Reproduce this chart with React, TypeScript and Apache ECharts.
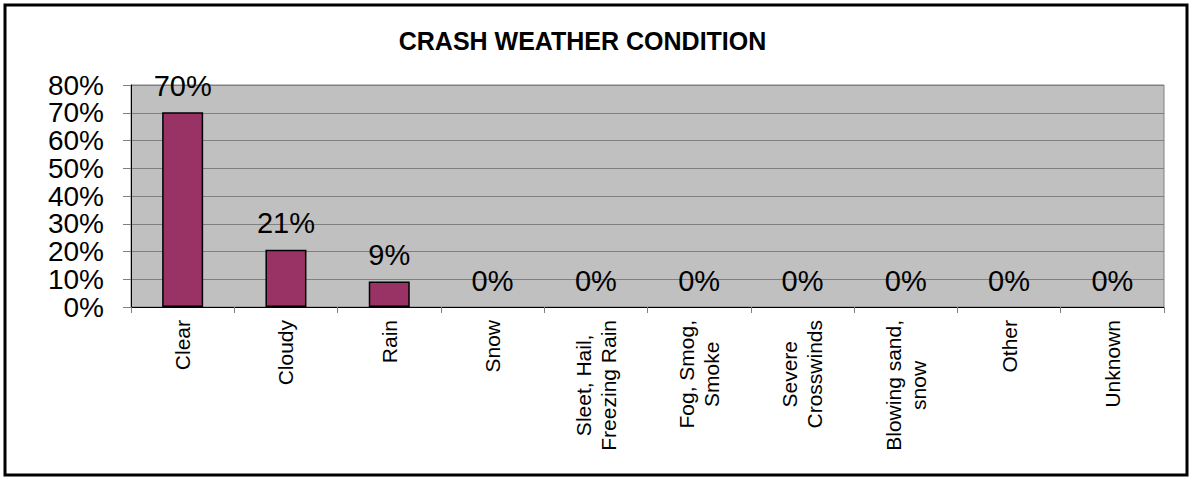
import React, { useEffect, useRef } from "react";
import * as echarts from "echarts";

const TITLE = "CRASH WEATHER CONDITION";
const categories = [
  "Clear",
  "Cloudy",
  "Rain",
  "Snow",
  "Sleet, Hail,\nFreezing Rain",
  "Fog, Smog,\nSmoke",
  "Severe\nCrosswinds",
  "Blowing sand,\nsnow",
  "Other",
  "Unknown",
];
const shares = [70.2, 20.6, 9.2, 0, 0, 0, 0, 0, 0, 0];
const yTicks = { min: 0, max: 80, interval: 10 };

const FONT = '"Liberation Sans", Arial, sans-serif';

export default function App() {
  const ref = useRef<HTMLDivElement>(null);
  useEffect(() => {
    if (!ref.current) return;
    const chart = echarts.init(ref.current, null, { renderer: "svg" });
    const yLabelBase = {
      color: "#000",
      fontFamily: FONT,
      fontSize: 28,
      margin: 27,
      hideOverlap: false,
    };
    chart.setOption({
      animation: false,
      backgroundColor: "#ffffff",
      textStyle: { fontFamily: FONT },
      grid: {
        left: 131,
        right: 28,
        top: 85,
        bottom: 170,
        show: true,
        backgroundColor: "#C0C0C0",
        borderColor: "#808080",
        borderWidth: 1,
      },
      xAxis: {
        type: "category",
        data: categories,
        axisLine: { lineStyle: { color: "#000", width: 1 } },
        axisTick: { show: true, length: 6, lineStyle: { color: "#808080" } },
        axisLabel: {
          interval: 0,
          rotate: 90,
          margin: 13,
          color: "#000",
          fontFamily: FONT,
          fontSize: 21,
          lineHeight: 25,
          formatter: (v: string) =>
            v
              .split("\n")
              .map((l) => `{c|${l}}`)
              .join("\n"),
          rich: {
            c: {
              align: "center",
              fontSize: 21,
              lineHeight: 25,
              fontFamily: FONT,
              color: "#000",
            },
          },
        },
        splitLine: { show: false },
      },
      yAxis: [
        {
          type: "value",
          min: yTicks.min,
          max: yTicks.max,
          interval: yTicks.interval,
          position: "left",
          axisLine: { show: true, lineStyle: { color: "#000", width: 1 } },
          axisTick: { show: true, length: 8, lineStyle: { color: "#808080" } },
          axisLabel: {
            ...yLabelBase,
            showMinLabel: true,
            showMaxLabel: true,
            formatter: (v: number) => ((v / yTicks.interval) % 2 === 0 ? `${v}%` : ""),
          },
          splitLine: { show: true, lineStyle: { color: "#808080", width: 1 } },
        },
        {
          type: "value",
          min: yTicks.min,
          max: yTicks.max,
          interval: yTicks.interval,
          position: "left",
          offset: 0,
          axisLine: { show: false },
          axisTick: { show: false },
          axisLabel: {
            ...yLabelBase,
            showMinLabel: false,
            showMaxLabel: false,
            formatter: (v: number) => ((v / yTicks.interval) % 2 === 1 ? `${v}%` : ""),
          },
          splitLine: { show: false },
        },
      ],
      series: [
        {
          type: "bar",
          yAxisIndex: 0,
          data: shares.map((v) => ({
            value: v,
            itemStyle: v === 0 ? { borderWidth: 0 } : undefined,
          })),
          barWidth: 41,
          itemStyle: { color: "#993366", borderColor: "#000", borderWidth: 1.5 },
          label: {
            show: true,
            position: "top",
            distance: 12,
            color: "#000",
            fontFamily: FONT,
            fontSize: 29,
            formatter: (p: any) => `${Math.round(p.value)}%`,
          },
        },
      ],
      graphic: [
        {
          type: "rect",
          shape: { x: 5, y: 5, width: 1182, height: 470 },
          style: { fill: "none", stroke: "#000", lineWidth: 3 },
          silent: true,
        },
        {
          type: "text",
          x: 582.5,
          y: 41,
          style: {
            text: TITLE,
            align: "center",
            verticalAlign: "middle",
            fontFamily: FONT,
            fontSize: 25,
            fontWeight: "bold",
            fill: "#000",
          },
        },
      ],
    });
    return () => chart.dispose();
  }, []);
  return (
    <div
      ref={ref}
      style={{ position: "fixed", left: 0, top: 0, width: 1192, height: 477, background: "#fff" }}
    />
  );
}
